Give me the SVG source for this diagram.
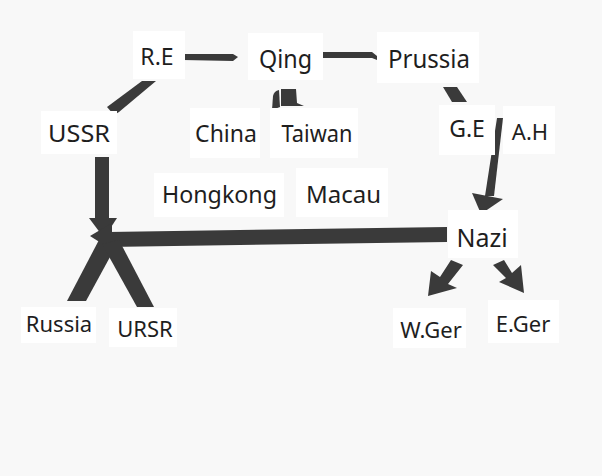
<svg xmlns="http://www.w3.org/2000/svg" width="602" height="476" viewBox="0 0 602 476">
<style>
.bg{fill:#f8f8f8}
.box{fill:#ffffff}
.t{font-family:"Noto Sans","Open Sans",sans-serif;fill:#1e1e1e;text-anchor:middle}
.c{fill:#3a3a3a;stroke:none}
</style>
<rect class="bg" x="0" y="0" width="602" height="476"/>
<g id="connectors">
  <polygon class="c" points="183,54 233,54 238,57 233,61 183,60"/>
  <polygon class="c" points="323,52 372,52 377,56 377,60 372,58 323,58"/>
  <polygon class="c" points="142,81 156,81 119,112 114,115 107,107"/>
  <path class="c" d="M272,110 L273,96 Q274,91 279,90 L280,107 Z"/>
  <polygon class="c" points="281,89 296,89 297,103 304,106 281,106"/>
  <polygon class="c" points="443,87 457,87 467,102 452,102"/>
  <polygon class="c" points="497,118 503,118 494,196 485,196"/>
  <polygon class="c" points="472,193 503,199 481,214"/>
  <rect class="c" x="95" y="157" width="14" height="64"/>
  <polygon class="c" points="89,218 117,218 104,238"/>
  <polygon class="c" points="108,232 447,227 447,242 108,247"/>
  <polygon class="c" points="112,223 112,250 90,236"/>
  <polygon class="c" points="100,238 116,246 86,301 67,301"/>
  <polygon class="c" points="102,244 119,240 154,307 137,307"/>
  <polygon class="c" points="451,260 463,265 448,284 457,288 428,296 431,271 440,277"/>
  <polygon class="c" points="493,265 504,260 512,273 521,265 524,293 499,282 506,278"/>
</g>
<g id="node-re"><rect class="box" x="133" y="31" width="52" height="48"/><text class="t" x="157" y="65" font-size="23">R.E</text></g>
<g id="node-qing"><rect class="box" x="248" y="33" width="75" height="47"/><text class="t" x="285.5" y="68" font-size="25" textLength="53" lengthAdjust="spacingAndGlyphs">Qing</text></g>
<g id="node-prussia"><rect class="box" x="377" y="32" width="102" height="51"/><text class="t" x="429" y="68" font-size="25" textLength="82" lengthAdjust="spacingAndGlyphs">Prussia</text></g>
<g id="node-ussr"><rect class="box" x="41" y="111" width="76" height="43"/><text class="t" x="79" y="142" font-size="23" textLength="62" lengthAdjust="spacingAndGlyphs">USSR</text></g>
<g id="node-china"><rect class="box" x="190" y="108" width="70" height="50"/><text class="t" x="226" y="142" font-size="23">China</text></g>
<g id="node-taiwan"><rect class="box" x="270" y="108" width="88" height="50"/><text class="t" x="317" y="142" font-size="23" textLength="71" lengthAdjust="spacingAndGlyphs">Taiwan</text></g>
<g id="node-ge"><rect class="box" x="439" y="105" width="56" height="50"/><text class="t" x="467" y="137" font-size="23">G.E</text></g>
<g id="node-ah"><rect class="box" x="503" y="106" width="52" height="48"/><text class="t" x="530" y="140" font-size="22">A.H</text></g>
<g id="node-hongkong"><rect class="box" x="154" y="173" width="130" height="44"/><text class="t" x="219.5" y="203" font-size="24" textLength="115" lengthAdjust="spacingAndGlyphs">Hongkong</text></g>
<g id="node-macau"><rect class="box" x="296" y="168" width="92" height="49"/><text class="t" x="343.5" y="203" font-size="24">Macau</text></g>
<g id="node-nazi"><rect class="box" x="448" y="210" width="70" height="48"/><text class="t" x="482" y="247" font-size="25">Nazi</text></g>
<g id="node-russia"><rect class="box" x="21" y="307" width="75" height="36"/><text class="t" x="59" y="332" font-size="22">Russia</text></g>
<g id="node-ursr"><rect class="box" x="109" y="308" width="68" height="39"/><text class="t" x="145" y="337" font-size="22">URSR</text></g>
<g id="node-wger"><rect class="box" x="393" y="308" width="73" height="40"/><text class="t" x="431" y="338" font-size="22">W.Ger</text></g>
<g id="node-eger"><rect class="box" x="488" y="300" width="71" height="43"/><text class="t" x="523" y="332" font-size="22">E.Ger</text></g>
</svg>
